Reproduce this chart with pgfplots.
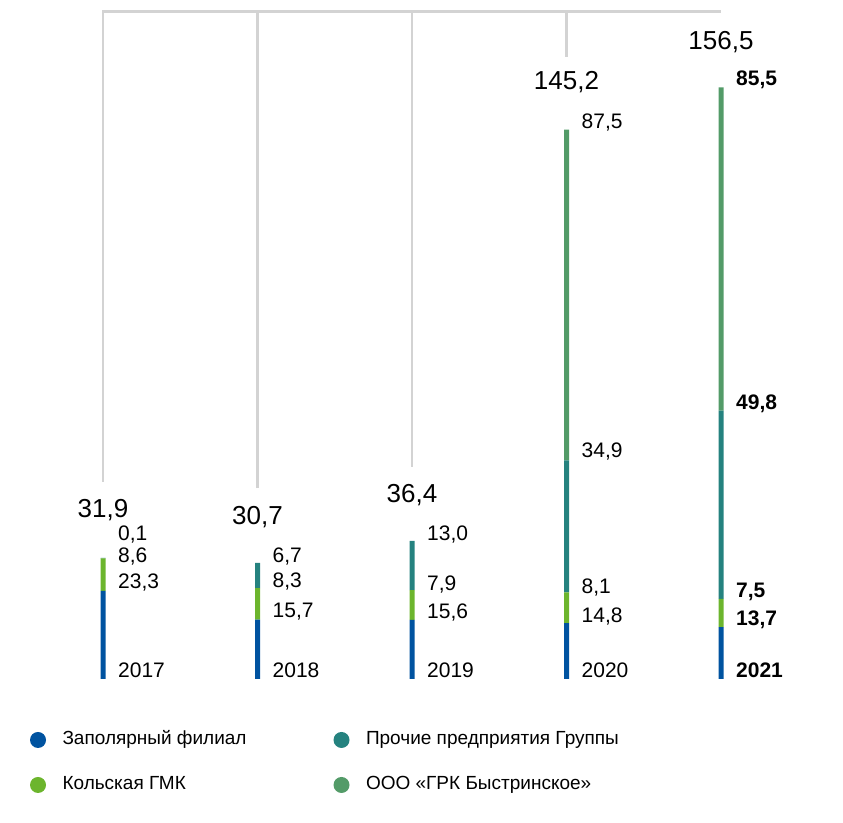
\documentclass[border=0pt]{standalone}
\usepackage{pgfplots}
\usepackage{pgfplotstable}
\pgfplotsset{compat=1.18}
\usepackage{fontspec}
\setmainfont{Liberation Sans}
\definecolor{cblue}{HTML}{0053A0}
\definecolor{cgreen}{HTML}{6CB52D}
\definecolor{cteal}{HTML}{25827F}
\definecolor{cdkgreen}{HTML}{539B68}
\definecolor{cgrid}{HTML}{D3D3D3}
\pgfplotsset{base/.style={scale only axis, width=843pt, height=823pt,
  xmin=-0.6667, xmax=4.7896, ymin=-38.1, ymax=179.6, hide axis, clip=false}}
\pgfplotstableread{
x y lab
0 2.4 2017
0 25.4 23,3
0 32.3 8,6
0 38.1 0,1
1 2.4 2018
1 17.7 15,7
1 25.7 8,3
1 32.3 6,7
2 2.4 2019
2 17.7 15,6
2 25.1 7,9
2 38.1 13,0
3 2.4 2020
3 16.4 14,8
3 24.3 8,1
3 60.1 34,9
3 147.1 87,5
}\seglabels
\pgfplotstableread{
x y lab
4 2.4 2021
4 15.6 13,7
4 23.0 7,5
4 72.8 49,8
4 158.5 85,5
}\boldlabels
\pgfplotstableread{
x y lab
0 44.7 31,9
1 42.9 30,7
2 48.7 36,4
3 157.9 145,2
4 168.5 156,5
}\totals
\begin{document}
\begin{tikzpicture}
\begin{axis}[base, ybar stacked, bar width=5pt]
\addplot[fill=cblue, draw=none] coordinates {(0,23.3) (1,15.7) (2,15.6) (3,14.8) (4,13.7)};
\addplot[fill=cgreen, draw=none] coordinates {(0,8.6) (1,8.3) (2,7.9) (3,8.1) (4,7.5)};
\addplot[fill=cteal, draw=none] coordinates {(0,0.1) (1,6.7) (2,13.0) (3,34.9) (4,49.8)};
\addplot[fill=cdkgreen, draw=none] coordinates {(0,0) (1,0) (2,0) (3,87.5) (4,85.5)};
\end{axis}
\begin{axis}[base, name=main,
  legend columns=2,
  legend cell align=left,
  legend style={at={(0.0356,0.1118)}, anchor=north west, draw=none, fill=none,
    inner sep=0pt, outer sep=0pt, row sep=27pt, column sep=0pt,
    nodes={inner sep=0pt, text height=14pt, text depth=4pt, font=\fontsize{19}{22}\selectfont}}]
\addplot[forget plot, cgrid, line width=2.5pt, line join=miter] coordinates {(0,52.1) (0,176.5) (4,176.5)};
\addplot[forget plot, cgrid, line width=2.5pt] coordinates {(1,50.5) (1,176.5)};
\addplot[forget plot, cgrid, line width=2.5pt] coordinates {(2,56.1) (2,176.5)};
\addplot[forget plot, cgrid, line width=2.5pt] coordinates {(3,164.6) (3,176.5)};
\addplot[forget plot, draw=none, mark=none, nodes near coords, point meta=explicit symbolic,
  nodes near coords style={anchor=west, inner sep=0pt, xshift=15pt, text=black, font=\fontsize{21}{25}\selectfont}]
  table[x=x, y=y, meta=lab] {\seglabels};
\addplot[forget plot, draw=none, mark=none, nodes near coords, point meta=explicit symbolic,
  nodes near coords style={anchor=west, inner sep=0pt, xshift=15pt, text=black, font=\fontsize{21}{25}\selectfont\bfseries}]
  table[x=x, y=y, meta=lab] {\boldlabels};
\addplot[forget plot, draw=none, mark=none, nodes near coords, point meta=explicit symbolic,
  nodes near coords style={anchor=center, inner sep=0pt, text=black, font=\fontsize{26}{31}\selectfont}]
  table[x=x, y=y, meta=lab] {\totals};
\addlegendimage{legend image code/.code={\path[draw=none,fill=none] (-0.5pt,-8pt) rectangle (32pt,8pt); \fill[cblue,draw=none] (7.5pt,0pt) circle (8pt);}}
\addlegendentry{\makebox[271pt][l]{Заполярный филиал}}
\addlegendimage{legend image code/.code={\path[draw=none,fill=none] (-0.5pt,-8pt) rectangle (32pt,8pt); \fill[cteal,draw=none] (7.5pt,0pt) circle (8pt);}}
\addlegendentry{Прочие предприятия Группы}
\addlegendimage{legend image code/.code={\path[draw=none,fill=none] (-0.5pt,-8pt) rectangle (32pt,8pt); \fill[cgreen,draw=none] (7.5pt,0pt) circle (8pt);}}
\addlegendentry{\makebox[271pt][l]{Кольская ГМК}}
\addlegendimage{legend image code/.code={\path[draw=none,fill=none] (-0.5pt,-8pt) rectangle (32pt,8pt); \fill[cdkgreen,draw=none] (7.5pt,0pt) circle (8pt);}}
\addlegendentry{ООО «ГРК Быстринское»}
\end{axis}
\pgfresetboundingbox
\useasboundingbox (main.south west) rectangle (main.north east);
\end{tikzpicture}
\end{document}
